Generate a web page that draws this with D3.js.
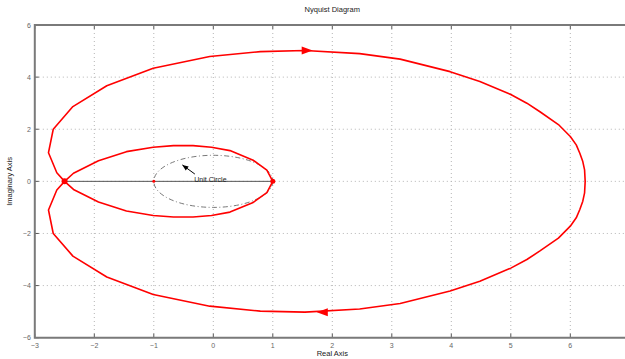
<!DOCTYPE html>
<html>
<head>
<meta charset="utf-8">
<script src="https://cdn.jsdelivr.net/npm/d3@7"></script>
<style>
  body { margin: 0; background: #fff; }
  svg { display: block; font-family: "Liberation Sans", Arial, sans-serif; }
</style>
</head>
<body>
<svg id="chart" width="625" height="359"></svg>
<script>
// Outer loop (upper half then lower half), real / imaginary
const outerRe = [-2.50, -2.63, -2.77, -2.69, -2.36, -1.79, -1.01, -0.06, 0.79, 1.54, 2.46, 3.14, 3.98, 4.48, 5.00, 5.27, 5.49, 5.80, 6.00, 6.10, 6.16, 6.21, 6.24, 6.25,
                 6.24, 6.21, 6.16, 6.10, 6.00, 5.80, 5.49, 5.27, 5.00, 4.48, 3.98, 3.14, 2.46, 1.54, 0.79, -0.06, -1.01, -1.79, -2.36, -2.69, -2.77, -2.63, -2.50];
const outerIm = [0, 0.33, 1.10, 2.00, 2.87, 3.67, 4.34, 4.79, 4.98, 5.02, 4.90, 4.69, 4.21, 3.83, 3.33, 3.00, 2.67, 2.18, 1.72, 1.40, 1.08, 0.76, 0.44, 0,
                 -0.44, -0.76, -1.08, -1.40, -1.72, -2.18, -2.67, -3.00, -3.33, -3.83, -4.21, -4.69, -4.90, -5.02, -4.98, -4.79, -4.34, -3.67, -2.87, -2.00, -1.10, -0.33, 0];

// Inner loop
const innerRe = [-2.50, -2.35, -1.93, -1.46, -1.01, -0.67, -0.34, -0.03, 0.28, 0.67, 0.90, 1.00,
                 0.90, 0.67, 0.28, -0.03, -0.34, -0.67, -1.01, -1.46, -1.93, -2.35, -2.50];
const innerIm = [0, 0.31, 0.79, 1.14, 1.31, 1.37, 1.37, 1.31, 1.18, 0.81, 0.43, 0,
                 -0.43, -0.81, -1.18, -1.31, -1.37, -1.37, -1.31, -1.14, -0.79, -0.31, 0];

// direction arrows on the outer loop: tip position and direction (+1 right, -1 left)
const arrowRe = [1.67, 1.74];
const arrowIm = [5.02, -5.02];
const arrowDir = [1, -1];

// marked points on the real axis
const dotRe = [-2.50, 1.0, -1.0];
const dotR = [3, 2.5, 1.5];

const xTicks = [-3, -2, -1, 0, 1, 2, 3, 4, 5, 6, 7];
const xLabels = [-3, -2, -1, 0, 1, 2, 3, 4, 5, 6];
const yTicks = [-6, -4, -2, 0, 2, 4, 6];

const svg = d3.select("#chart");

const x = d3.scaleLinear().domain([-3, 7]).range([34.8, 629.8]);
const y = d3.scaleLinear().domain([-6, 6]).range([337.7, 25]);

const gridColor = "#b4b4b4";
const axisColor = "#7a7a7a";

// grid
svg.append("g").selectAll("line").data(xTicks.slice(1)).join("line")
  .attr("x1", d => x(d)).attr("x2", d => x(d))
  .attr("y1", y(6)).attr("y2", y(-6))
  .attr("stroke", gridColor).attr("stroke-width", 1).attr("stroke-dasharray", "1,3");
svg.append("g").selectAll("line").data(yTicks.slice(1, -1)).join("line")
  .attr("x1", x(-3)).attr("x2", x(7))
  .attr("y1", d => y(d)).attr("y2", d => y(d))
  .attr("stroke", gridColor).attr("stroke-width", 1).attr("stroke-dasharray", "1,3");

// real axis segment
svg.append("line")
  .attr("x1", x(dotRe[0])).attr("x2", x(1))
  .attr("y1", y(0)).attr("y2", y(0))
  .attr("stroke", "#555").attr("stroke-width", 1);

// ticks (inward)
const tk = 4;
svg.append("g").selectAll("line").data(xTicks).join("line")
  .attr("x1", d => x(d)).attr("x2", d => x(d))
  .attr("y1", y(-6)).attr("y2", y(-6) - tk)
  .attr("stroke", "#555");
svg.append("g").selectAll("line").data(xTicks).join("line")
  .attr("x1", d => x(d)).attr("x2", d => x(d))
  .attr("y1", y(6)).attr("y2", y(6) + tk)
  .attr("stroke", "#555");
svg.append("g").selectAll("line").data(yTicks).join("line")
  .attr("x1", x(-3)).attr("x2", x(-3) + tk)
  .attr("y1", d => y(d)).attr("y2", d => y(d))
  .attr("stroke", "#555");

// frame
svg.append("path")
  .attr("d", `M${x(7) + 2},${y(6)}H${x(-3)}V${y(-6)}H${x(7) + 2}`)
  .attr("fill", "none").attr("stroke", axisColor).attr("stroke-width", 2);

// tick labels
const fmt = d => d < 0 ? "\u2212" + Math.abs(d) : String(d);
svg.append("g").selectAll("text").data(xLabels).join("text")
  .attr("x", d => x(d)).attr("y", y(-6) + 10)
  .attr("text-anchor", "middle").attr("font-size", 7).attr("fill", "#666")
  .text(fmt);
svg.append("g").selectAll("text").data(yTicks).join("text")
  .attr("x", x(-3) - 4).attr("y", d => y(d) + 2.5)
  .attr("text-anchor", "end").attr("font-size", 7).attr("fill", "#666")
  .text(fmt);

// unit circle
svg.append("ellipse")
  .attr("cx", x(0)).attr("cy", y(0))
  .attr("rx", x(1) - x(0)).attr("ry", y(0) - y(1))
  .attr("fill", "none").attr("stroke", "#555").attr("stroke-width", 0.8)
  .attr("stroke-dasharray", "5,2.5,1,2.5");

// curves
const line = d3.line().x(d => x(d[0])).y(d => y(d[1]));
svg.append("path")
  .attr("d", line(outerRe.map((r, i) => [r, outerIm[i]])))
  .attr("fill", "none").attr("stroke", "#ff0000").attr("stroke-width", 1.6)
  .attr("stroke-linejoin", "round");
svg.append("path")
  .attr("d", line(innerRe.map((r, i) => [r, innerIm[i]])))
  .attr("fill", "none").attr("stroke", "#ff0000").attr("stroke-width", 1.6)
  .attr("stroke-linejoin", "round");

// direction arrows
svg.append("g").selectAll("path").data(arrowRe).join("path")
  .attr("transform", (d, i) => `translate(${x(d)},${y(arrowIm[i])}) scale(${arrowDir[i]},1)`)
  .attr("d", "M0,0L-11,-4L-11,4Z")
  .attr("fill", "#ff0000");

// dots
svg.append("g").selectAll("circle").data(dotRe).join("circle")
  .attr("cx", d => x(d)).attr("cy", y(0)).attr("r", (d, i) => dotR[i])
  .attr("fill", "#ff0000");

// unit circle annotation
const tail = [-0.31, 0.28], head = [-0.52, 0.63];
const ang = Math.atan2(y(head[1]) - y(tail[1]), x(head[0]) - x(tail[0])) * 180 / Math.PI;
svg.append("line")
  .attr("x1", x(tail[0])).attr("y1", y(tail[1]))
  .attr("x2", x(head[0])).attr("y2", y(head[1]))
  .attr("stroke", "#000").attr("stroke-width", 1);
svg.append("path")
  .attr("transform", `translate(${x(head[0])},${y(head[1])}) rotate(${ang})`)
  .attr("d", "M0,0L-6,-2.5L-6,2.5Z")
  .attr("fill", "#000");
svg.append("text")
  .attr("x", x(-0.32)).attr("y", y(0.07) + 2.5)
  .attr("font-size", 7).attr("fill", "#222")
  .text("Unit Circle");

// titles
svg.append("text")
  .attr("x", (x(-3) + x(7)) / 2).attr("y", 12)
  .attr("text-anchor", "middle").attr("font-size", 7.5).attr("fill", "#222")
  .text("Nyquist Diagram");
svg.append("text")
  .attr("x", (x(-3) + x(7)) / 2).attr("y", 356)
  .attr("text-anchor", "middle").attr("font-size", 7.5).attr("fill", "#222")
  .text("Real Axis");
svg.append("text")
  .attr("transform", `translate(12,${y(0)}) rotate(-90)`)
  .attr("text-anchor", "middle").attr("font-size", 7.5).attr("fill", "#222")
  .text("Imaginary Axis");
</script>
</body>
</html>
